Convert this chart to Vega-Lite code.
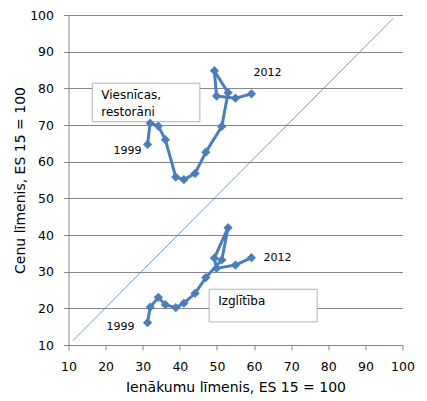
{
  "$schema": "https://vega.github.io/schema/vega-lite/v6.json",
  "width": 334,
  "height": 330,
  "autosize": {"type": "none"},
  "padding": {"left": 68.5, "top": 15, "right": 24.5, "bottom": 56},
  "background": "white",
  "config": {
    "view": {"stroke": null},
    "font": "DejaVu Sans",
    "axis": {
      "domainColor": "#868686",
      "tickColor": "#868686",
      "gridColor": "#868686",
      "tickSize": 5,
      "labelFontSize": 12.5,
      "labelColor": "#000000",
      "labelPadding": 10,
      "labelOverlap": false,
      "labelFlush": false,
      "titleFontSize": 14,
      "titleFontWeight": "normal",
      "titleColor": "#000000"
    }
  },
  "datasets": {
    "points": [
      {"series": "Viesnīcas, restorāni", "year": 1999, "x": 31.3, "y": 64.7},
      {"series": "Viesnīcas, restorāni", "year": 2000, "x": 32.0, "y": 70.5},
      {"series": "Viesnīcas, restorāni", "year": 2001, "x": 34.2, "y": 69.7},
      {"series": "Viesnīcas, restorāni", "year": 2002, "x": 36.1, "y": 66.0},
      {"series": "Viesnīcas, restorāni", "year": 2003, "x": 38.9, "y": 55.8},
      {"series": "Viesnīcas, restorāni", "year": 2004, "x": 41.1, "y": 55.1},
      {"series": "Viesnīcas, restorāni", "year": 2005, "x": 44.1, "y": 56.8},
      {"series": "Viesnīcas, restorāni", "year": 2006, "x": 47.0, "y": 62.6},
      {"series": "Viesnīcas, restorāni", "year": 2007, "x": 51.3, "y": 69.6},
      {"series": "Viesnīcas, restorāni", "year": 2008, "x": 53.0, "y": 78.8},
      {"series": "Viesnīcas, restorāni", "year": 2009, "x": 49.3, "y": 84.8},
      {"series": "Viesnīcas, restorāni", "year": 2010, "x": 49.9, "y": 77.9},
      {"series": "Viesnīcas, restorāni", "year": 2011, "x": 55.0, "y": 77.3},
      {"series": "Viesnīcas, restorāni", "year": 2012, "x": 59.3, "y": 78.5},
      {"series": "Izglītība", "year": 1999, "x": 31.3, "y": 16.1},
      {"series": "Izglītība", "year": 2000, "x": 32.0, "y": 20.3},
      {"series": "Izglītība", "year": 2001, "x": 34.2, "y": 23.0},
      {"series": "Izglītība", "year": 2002, "x": 36.1, "y": 21.0},
      {"series": "Izglītība", "year": 2003, "x": 38.9, "y": 20.2},
      {"series": "Izglītība", "year": 2004, "x": 41.1, "y": 21.4},
      {"series": "Izglītība", "year": 2005, "x": 44.1, "y": 24.1},
      {"series": "Izglītība", "year": 2006, "x": 47.0, "y": 28.4},
      {"series": "Izglītība", "year": 2007, "x": 51.3, "y": 33.2},
      {"series": "Izglītība", "year": 2008, "x": 53.0, "y": 42.0},
      {"series": "Izglītība", "year": 2009, "x": 49.3, "y": 33.7},
      {"series": "Izglītība", "year": 2010, "x": 49.9, "y": 30.9},
      {"series": "Izglītība", "year": 2011, "x": 55.0, "y": 31.8},
      {"series": "Izglītība", "year": 2012, "x": 59.3, "y": 33.8}
    ],
    "diagonal": [
      {"x": 11.2, "y": 11.2},
      {"x": 97.5, "y": 99.1}
    ],
    "boxes": [
      {"label": "Viesnīcas,\nrestorāni", "x1": 16.4, "x2": 45.4, "yb": 70.9, "yt": 81.4},
      {"label": "Izglītība", "x1": 47.9, "x2": 77.0, "yb": 16.3, "yt": 25.2}
    ]
  },
  "encoding": {
    "x": {
      "field": "x",
      "type": "quantitative",
      "scale": {"domain": [10, 100], "nice": false, "zero": false},
      "axis": {
        "tickCount": 10,
        "grid": false,
        "title": "Ienākumu līmenis, ES 15 = 100",
        "titlePadding": 8
      }
    },
    "y": {
      "field": "y",
      "type": "quantitative",
      "scale": {"domain": [10, 100], "nice": false, "zero": false},
      "axis": {
        "tickCount": 10,
        "grid": true,
        "title": "Cenu līmenis, ES 15 = 100",
        "titlePadding": 2
      }
    }
  },
  "layer": [
    {
      "data": {"name": "diagonal"},
      "mark": {"type": "line", "color": "#4F81BD", "strokeWidth": 0.8}
    },
    {
      "data": {"name": "boxes"},
      "mark": {"type": "rect", "fill": "white", "stroke": "#B4B4B4", "strokeWidth": 1},
      "encoding": {
        "x": {"field": "x1", "type": "quantitative"},
        "x2": {"field": "x2"},
        "y": {"field": "yt", "type": "quantitative"},
        "y2": {"field": "yb"}
      }
    },
    {
      "data": {"name": "boxes"},
      "mark": {"type": "text", "align": "left", "baseline": "top", "dx": 9, "dy": 7, "fontSize": 12, "lineBreak": "\n", "lineHeight": 16.5, "color": "black"},
      "encoding": {
        "x": {"field": "x1", "type": "quantitative"},
        "y": {"field": "yt", "type": "quantitative"},
        "text": {"field": "label"}
      }
    },
    {
      "data": {"name": "points"},
      "mark": {
        "type": "line",
        "color": "#4A7EBB",
        "strokeWidth": 3,
        "strokeJoin": "round",
        "point": {"shape": "diamond", "size": 85, "filled": true, "color": "#4A7EBB", "opacity": 1}
      },
      "encoding": {
        "detail": {"field": "series"},
        "order": {"field": "year", "type": "quantitative"}
      }
    },
    {
      "data": {"name": "points"},
      "transform": [{"filter": "datum.series == 'Viesnīcas, restorāni' && datum.year == 1999"}],
      "mark": {"type": "text", "align": "right", "baseline": "middle", "dx": -6, "dy": 7, "fontSize": 11, "color": "black"},
      "encoding": {"text": {"field": "year"}}
    },
    {
      "data": {"name": "points"},
      "transform": [{"filter": "datum.series == 'Viesnīcas, restorāni' && datum.year == 2012"}],
      "mark": {"type": "text", "align": "left", "baseline": "middle", "dx": 2, "dy": -21, "fontSize": 11, "color": "black"},
      "encoding": {"text": {"field": "year"}}
    },
    {
      "data": {"name": "points"},
      "transform": [{"filter": "datum.series == 'Izglītība' && datum.year == 1999"}],
      "mark": {"type": "text", "align": "right", "baseline": "middle", "dx": -13, "dy": 4, "fontSize": 11, "color": "black"},
      "encoding": {"text": {"field": "year"}}
    },
    {
      "data": {"name": "points"},
      "transform": [{"filter": "datum.series == 'Izglītība' && datum.year == 2012"}],
      "mark": {"type": "text", "align": "left", "baseline": "middle", "dx": 12, "dy": 0, "fontSize": 11, "color": "black"},
      "encoding": {"text": {"field": "year"}}
    }
  ]
}
